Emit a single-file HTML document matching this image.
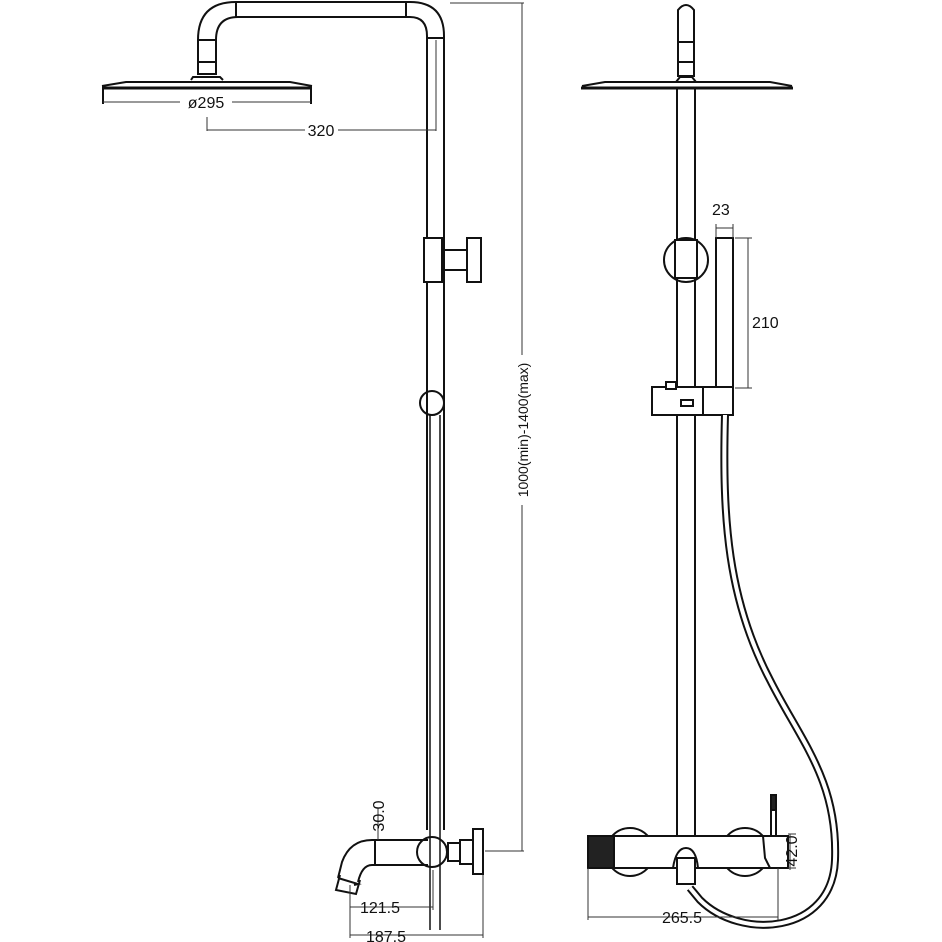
<!DOCTYPE html>
<html><head><meta charset="utf-8"><style>html,body{margin:0;padding:0;background:#fff}svg{display:block}</style></head>
<body>
<svg width="942" height="942" viewBox="0 0 942 942" xmlns="http://www.w3.org/2000/svg" font-family="Liberation Sans, sans-serif">
<g fill="none" stroke="#111" stroke-width="2">
<!-- LEFT VIEW: top arm -->
<path d="M198 62 L198 40 Q198 2 236 2 L410 2 Q444 2 444 36 L444 830"/>
<path d="M216 62 L216 40 Q216 17 238 17 L410 17 Q427 17 427 36 L427 238"/>
<line x1="236" y1="2" x2="236" y2="17"/><line x1="406" y1="2" x2="406" y2="17"/>
<line x1="198" y1="40" x2="216" y2="40"/><line x1="427" y1="38" x2="444" y2="38"/>
<rect x="198" y="62" width="18" height="12"/>
<path d="M191 80 L193 77 L220 77 L223 80" stroke-width="2"/>
<path d="M102 86 L126 82 L290 82 L312 86"/>
<line x1="102" y1="88" x2="312" y2="88" stroke-width="3"/>
<line x1="103" y1="86" x2="103" y2="104" stroke-width="2"/><line x1="311" y1="86" x2="311" y2="104" stroke-width="2"/>
<!-- slide joint -->
<rect x="424" y="238" width="18" height="44"/>
<line x1="444" y1="250" x2="467" y2="250"/><line x1="444" y1="270" x2="467" y2="270"/>
<rect x="467" y="238" width="14" height="44"/>
<line x1="427" y1="282" x2="427" y2="830"/>
<circle cx="432" cy="403" r="12"/>
<line x1="430" y1="415" x2="430" y2="930" stroke-width="1.5"/>
<line x1="440" y1="415" x2="440" y2="930" stroke-width="1.5"/>
<!-- bottom left -->
<path d="M372 840 L428 840 M372 865 L428 865 M372 840 Q350 840 342 862 L338 878 M372 865 Q362 865 358 882"/>
<path d="M338 878 L358 884 L354 885"/>
<path d="M340 875 L336 890 L356 894 L360 880"/>
<line x1="375" y1="840" x2="375" y2="865"/>
<circle cx="432" cy="852" r="15"/>
<rect x="448" y="843" width="12" height="18"/>
<rect x="460" y="840" width="13" height="24"/>
<rect x="473" y="829" width="10" height="45"/>
<!-- RIGHT VIEW -->
<path d="M678 62 L678 10 Q686 0 694 10 L694 62 Z"/>
<line x1="678" y1="42" x2="694" y2="42"/>
<rect x="678" y="62" width="16" height="14"/>
<path d="M676 82 L680 77 L692 77 L696 82"/>
<path d="M582 86 L605 82 L770 82 L792 86"/>
<line x1="581" y1="88" x2="793" y2="88" stroke-width="3"/>
<line x1="677" y1="88" x2="677" y2="836"/><line x1="695" y1="88" x2="695" y2="836"/>
<circle cx="686" cy="260" r="22"/>
<rect x="675" y="240" width="22" height="38" fill="#fff"/>
<rect x="716" y="238" width="17" height="150"/>
<rect x="652" y="387" width="81" height="28" fill="#fff"/>
<line x1="703" y1="387" x2="703" y2="415"/>
<rect x="681" y="400" width="12" height="6"/>
<rect x="666" y="382" width="10" height="7" fill="#fff"/>
<!-- hose -->
<path d="M725 415 C722 520 728 600 770 680 C800 740 838 780 835 860 C832 935 740 940 700 900 L690 888" stroke-width="8"/>
<path d="M725 415 C722 520 728 600 770 680 C800 740 838 780 835 860 C832 935 740 940 700 900 L690 888" stroke="#fff" stroke-width="4"/>
<!-- valve body -->
<circle cx="630" cy="852" r="24"/><circle cx="745" cy="852" r="24"/>
<rect x="588" y="836" width="200" height="32" fill="#fff"/>
<rect x="588" y="836" width="26" height="32" fill="#222"/>
<path d="M763 836 L788 836 L788 868 L770 868 L765 858 Z" fill="#fff"/>
<rect x="771" y="795" width="5" height="41"/>
<rect x="771" y="795" width="5" height="15" fill="#222"/>
<path d="M673 868 Q676 848 686 848 Q696 848 698 868"/>
<rect x="677" y="858" width="18" height="26" fill="#fff"/>
</g>
<!-- dimensions -->
<g stroke="#333" stroke-width="1" fill="none">
<line x1="103" y1="102" x2="180" y2="102"/><line x1="232" y1="102" x2="311" y2="102"/>
<line x1="207" y1="117" x2="207" y2="131"/><line x1="207" y1="130" x2="305" y2="130"/><line x1="338" y1="130" x2="436" y2="130"/><line x1="436" y1="40" x2="436" y2="131"/>
<line x1="522" y1="3" x2="522" y2="355"/><line x1="522" y1="505" x2="522" y2="851"/>
<line x1="450" y1="3" x2="524" y2="3"/><line x1="485" y1="851" x2="524" y2="851"/>
<line x1="378" y1="808" x2="378" y2="840"/>
<line x1="350" y1="885" x2="350" y2="938"/><line x1="350" y1="907" x2="433" y2="907"/><line x1="433" y1="870" x2="433" y2="910"/>
<line x1="350" y1="935" x2="483" y2="935"/><line x1="483" y1="875" x2="483" y2="938"/>
<line x1="716" y1="228" x2="733" y2="228"/><line x1="716" y1="224" x2="716" y2="238"/><line x1="733" y1="224" x2="733" y2="238"/>
<line x1="748" y1="238" x2="748" y2="388"/><line x1="735" y1="238" x2="752" y2="238"/><line x1="735" y1="388" x2="752" y2="388"/>
<line x1="588" y1="868" x2="588" y2="920"/><line x1="778" y1="868" x2="778" y2="920"/><line x1="588" y1="917" x2="778" y2="917"/>
<line x1="790" y1="834" x2="790" y2="870"/><line x1="788" y1="834" x2="796" y2="834"/><line x1="788" y1="868" x2="796" y2="868"/>
</g>
<g font-size="16" fill="#111">
<text x="206" y="108" text-anchor="middle">ø295</text>
<text x="321" y="136" text-anchor="middle">320</text>
<text x="712" y="215">23</text>
<text x="752" y="328">210</text>
<text x="380" y="913" text-anchor="middle">121.5</text>
<text x="386" y="942" text-anchor="middle">187.5</text>
<text x="682" y="923" text-anchor="middle">265.5</text>
<text transform="translate(384,816) rotate(-90)" text-anchor="middle">30.0</text>
<text transform="translate(797,851) rotate(-90)" text-anchor="middle">42.0</text>
<text transform="translate(528,430) rotate(-90)" text-anchor="middle" font-size="14">1000(min)-1400(max)</text>
</g>
</svg>
</body></html>
